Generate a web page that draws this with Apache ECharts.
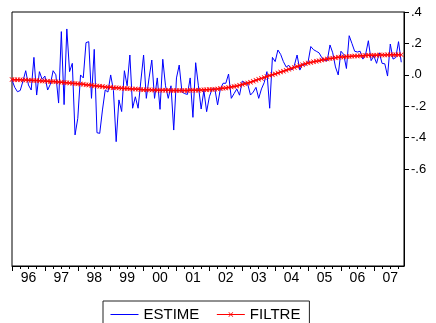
<!DOCTYPE html>
<html>
<head>
<meta charset="utf-8">
<script src="https://cdn.jsdelivr.net/npm/echarts@6/dist/echarts.min.js"></script>
<style>
  html, body { margin: 0; padding: 0; background: #fff; }
  #chart { width: 436px; height: 323px; }
</style>
</head>
<body>
<div id="chart"></div>
<script>
// Monthly observations, January 1996 to November 2007
const startYear = 1996;
const yearLabels = ['96', '97', '98', '99', '00', '01', '02', '03', '04', '05', '06', '07'];
const yTickValues = [0.4, 0.2, 0.0, -0.2, -0.4, -0.6];

// ESTIME: raw estimated series
const estime = [
  -0.033, -0.080, -0.108, -0.100, -0.040, 0.026, -0.065, -0.097, 0.111, -0.129, 0.020, -0.029,
  -0.008, -0.097, -0.060, 0.026, 0.000, -0.180, 0.275, -0.190, 0.292, 0.020, 0.073, -0.383,
  -0.277, -0.001, -0.020, 0.205, 0.211, -0.150, 0.162, -0.369, -0.373, -0.224, -0.097, -0.110,
  -0.001, -0.100, -0.426, -0.160, -0.234, 0.026, -0.070, 0.126, -0.213, -0.140, -0.213, -0.040,
  0.126, -0.150, -0.020, 0.094, -0.150, -0.020, -0.220, 0.099, -0.070, -0.150, -0.070, -0.352,
  -0.020, 0.062, -0.110, -0.120, -0.125, -0.020, -0.271, 0.077, -0.070, -0.218, -0.100, -0.235,
  -0.140, -0.090, -0.090, -0.192, -0.090, -0.054, -0.054, 0.005, -0.150, -0.120, -0.090, -0.130,
  -0.040, -0.050, -0.060, -0.129, -0.110, -0.080, -0.150, -0.090, -0.050, 0.020, -0.213, 0.111,
  0.084, 0.158, 0.130, 0.084, 0.050, 0.060, 0.030, 0.060, 0.126, 0.030, 0.070, 0.060,
  0.080, 0.180, 0.160, 0.150, 0.140, 0.110, 0.090, 0.090, 0.190, 0.140, 0.050, -0.001,
  0.150, 0.130, 0.040, 0.249, 0.200, 0.150, 0.145, 0.150, 0.100, 0.130, 0.217, 0.090,
  0.120, 0.073, 0.140, 0.073, 0.070, -0.008, 0.196, 0.100, 0.110, 0.211, 0.080
];

// FILTRE: smoothed (filtered) series
const filtre = [
  -0.030, -0.031, -0.031, -0.032, -0.033, -0.033, -0.034, -0.035, -0.036, -0.037, -0.038, -0.039,
  -0.040, -0.041, -0.042, -0.043, -0.044, -0.046, -0.047, -0.049, -0.050, -0.052, -0.054, -0.055,
  -0.057, -0.059, -0.061, -0.063, -0.065, -0.067, -0.069, -0.071, -0.073, -0.075, -0.077, -0.079,
  -0.080, -0.082, -0.083, -0.084, -0.086, -0.087, -0.088, -0.089, -0.090, -0.091, -0.092, -0.094,
  -0.095, -0.095, -0.096, -0.097, -0.097, -0.098, -0.098, -0.099, -0.099, -0.099, -0.100, -0.100,
  -0.100, -0.100, -0.100, -0.100, -0.100, -0.099, -0.099, -0.098, -0.098, -0.097, -0.096, -0.095,
  -0.094, -0.093, -0.092, -0.090, -0.088, -0.086, -0.084, -0.081, -0.078, -0.075, -0.072, -0.067,
  -0.062, -0.057, -0.052, -0.047, -0.041, -0.035, -0.029, -0.023, -0.017, -0.011, -0.005, 0.000,
  0.005, 0.011, 0.017, 0.023, 0.029, 0.035, 0.041, 0.047, 0.053, 0.058, 0.064, 0.070,
  0.075, 0.079, 0.083, 0.087, 0.090, 0.094, 0.097, 0.100, 0.103, 0.106, 0.108, 0.111,
  0.113, 0.114, 0.116, 0.117, 0.118, 0.119, 0.120, 0.121, 0.122, 0.123, 0.124, 0.124,
  0.125, 0.125, 0.126, 0.126, 0.126, 0.127, 0.127, 0.127, 0.128, 0.128, 0.128
];

// Time positions (fractional years) for each monthly observation
const monthPos = (i) => startYear + i / 12;
const estimeData = estime.map((v, i) => [monthPos(i), v]);
const filtreData = filtre.map((v, i) => [monthPos(i), v]);

const xMin = startYear;
const xMax = startYear + 143 / 12;
const yearTicks = yearLabels.map((_, k) => startYear + k);
const labelPos = yearLabels.map((_, k) => startYear + k + 0.5);
const quarterTicks = [];
yearLabels.forEach((_, k) => {
  for (let q = 1; q < 4; q++) quarterTicks.push(startYear + k + q / 4);
});

const FONT = '"Liberation Sans", Arial, sans-serif';
const crossSymbol = 'path://M0,1L1,0L5,4L9,0L10,1L6,5L10,9L9,10L5,6L1,10L0,9L4,5Z';

const chart = echarts.init(document.getElementById('chart'), null, { renderer: 'canvas' });
chart.setOption({
  animation: false,
  backgroundColor: '#fff',
  textStyle: { fontFamily: FONT },
  grid: {
    left: 12, right: 32, top: 12, bottom: 57,
    show: true, borderColor: '#000', borderWidth: 1, backgroundColor: 'transparent'
  },
  legend: {
    left: 103, top: 301,
    padding: [6, 9, 20, 7],
    itemWidth: 28, itemHeight: 6, itemGap: 17,
    borderColor: '#222', borderWidth: 1,
    textStyle: { fontSize: 15, color: '#000', fontFamily: FONT },
    data: [
      { name: 'ESTIME', itemStyle: { opacity: 0 }, lineStyle: { color: '#0000ff', width: 1 } },
      { name: 'FILTRE', lineStyle: { color: '#ff0000', width: 1 } }
    ]
  },
  xAxis: [
    {
      type: 'value', min: xMin, max: xMax,
      axisLine: { show: true, onZero: false, lineStyle: { color: '#000', width: 1 } },
      axisTick: { show: true, customValues: yearTicks, length: 5, lineStyle: { color: '#000' } },
      axisLabel: {
        show: true, customValues: labelPos, margin: 5,
        fontSize: 14, color: '#000', fontFamily: FONT,
        formatter: (v) => yearLabels[Math.floor(v + 1e-6) - startYear]
      },
      splitLine: { show: false }
    },
    {
      type: 'value', min: xMin, max: xMax, position: 'bottom',
      axisLine: { show: false, onZero: false },
      axisTick: { show: true, customValues: quarterTicks, length: 3, lineStyle: { color: '#000' } },
      axisLabel: { show: false },
      splitLine: { show: false }
    }
  ],
  yAxis: {
    type: 'value', position: 'right', min: -1.218, max: 0.4,
    axisLine: { show: true, onZero: false, lineStyle: { color: '#000', width: 1 } },
    axisTick: { show: true, customValues: yTickValues, length: 5, lineStyle: { color: '#000' } },
    axisLabel: {
      show: true, customValues: yTickValues, margin: 7,
      fontSize: 13, color: '#000', fontFamily: FONT,
      formatter: (v) => (v < -1e-9 ? '-' : '') + '.' + Math.round(Math.abs(v) * 10)
    },
    splitLine: { show: false }
  },
  series: [
    {
      name: 'ESTIME', type: 'line', data: estimeData,
      showSymbol: false, symbol: 'none',
      lineStyle: { color: '#0000ff', width: 1 },
      itemStyle: { color: '#0000ff' },
      z: 2
    },
    {
      name: 'FILTRE', type: 'line', data: filtreData,
      symbol: crossSymbol, symbolSize: 5, showSymbol: true,
      lineStyle: { color: '#ff0000', width: 1.5 },
      itemStyle: { color: '#ff0000' },
      z: 3
    }
  ]
});
</script>
</body>
</html>
